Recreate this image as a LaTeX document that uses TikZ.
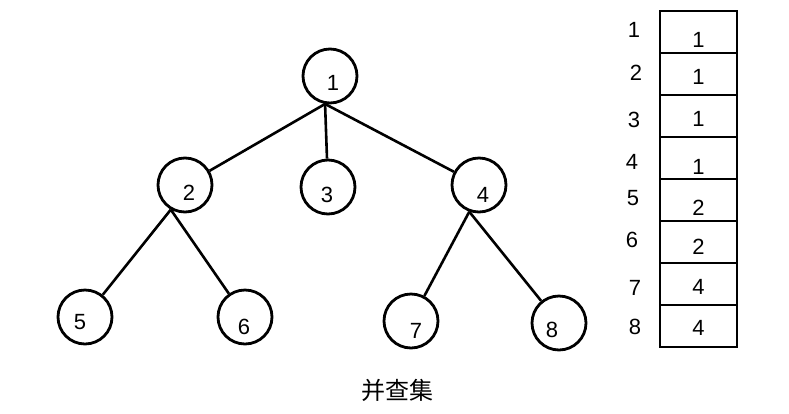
\documentclass[tikz,border=0pt]{standalone}
\usepackage{fontspec}
\setmainfont{Liberation Sans}
\newfontfamily\cjk{Noto Sans CJK SC}
\usepackage{tikz}
\usetikzlibrary{positioning}

\begin{document}
\begin{tikzpicture}[x=1pt, y=-1pt, font=\fontsize{22}{25}\selectfont,
    vtx/.style={circle, draw, line width=2.8pt, minimum size=54pt, inner sep=0pt},
    cell/.style={rectangle, draw, line width=2.9pt, minimum width=77pt, minimum height=42pt, inner sep=0pt},
    edge/.style={line width=2.6pt}]
  \useasboundingbox (0,0) rectangle (789,413);
  % the tree
  \node[vtx, label={[shift={(3,7)}]center:1}] (n1) at (330,76) {};
  \node[vtx, label={[shift={(4,8)}]center:2}] (n2) at (185,185) {};
  \node[vtx, label={[shift={(-1,8)}]center:3}] (n3) at (328,187) {};
  \node[vtx, label={[shift={(4,10)}]center:4}] (n4) at (479,185) {};
  \node[vtx, label={[shift={(-5,5)}]center:5}] (n5) at (85,317) {};
  \node[vtx, label={[shift={(-1,10)}]center:6}] (n6) at (245,317) {};
  \node[vtx, label={[shift={(5,10)}]center:7}] (n7) at (411,321) {};
  \node[vtx, label={[shift={(-7,7)}]center:8}] (n8) at (559,323) {};
  \draw[edge] (n1.-100) -- (n2);
  \draw[edge] (n1.-100) -- (n3);
  \draw[edge] (n1.-100) -- (n4);
  \draw[edge] (n2.-120) -- (n5);
  \draw[edge] (n2.-120) -- (n6);
  \draw[edge] (n4.-110) -- (n7);
  \draw[edge] (n4.-110) -- (n8);
  \node[font=\cjk\fontsize{24}{28}\selectfont] (title) at (397,390) {并查集};
  % the parent array
  \node[cell, label={[yshift=-8pt]center:1}] (c1) at (698.5,32) {};
  \node[cell, label={[yshift=-3pt]center:1}] (c2) at (698.5,74) {};
  \node[cell, label={[yshift=-3pt]center:1}] (c3) at (698.5,116) {};
  \node[cell, label={[yshift=-9pt]center:1}] (c4) at (698.5,158) {};
  \node[cell, label={[yshift=-8pt]center:2}] (c5) at (698.5,200) {};
  \node[cell, label={[yshift=-5pt]center:2}] (c6) at (698.5,242) {};
  \node[cell, label={[yshift=-3pt]center:4}] (c7) at (698.5,284) {};
  \node[cell, label={[yshift=-2pt]center:4}] (c8) at (698.5,326) {};
  \node (i1) at (634,30) {1};
  \node (i2) at (636,73) {2};
  \node (i3) at (634,120) {3};
  \node (i4) at (632,162) {4};
  \node (i5) at (633,198) {5};
  \node (i6) at (632,240) {6};
  \node (i7) at (635,288) {7};
  \node (i8) at (635,327) {8};
\end{tikzpicture}
\end{document}
